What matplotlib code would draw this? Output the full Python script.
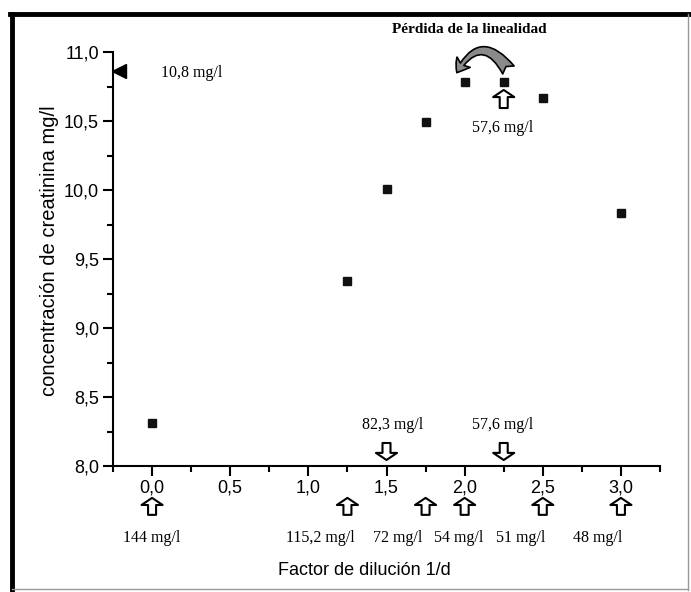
import matplotlib
matplotlib.use('Agg')
import matplotlib.pyplot as plt
from matplotlib.lines import Line2D
from matplotlib.ticker import MultipleLocator, FuncFormatter

# datos
dilucion = [0.0, 1.25, 1.5, 1.75, 2.0, 2.25, 2.5, 3.0]
creatinina = [8.31, 9.34, 10.01, 10.49, 10.78, 10.78, 10.67, 9.83]
ref_x, ref_y = -0.21, 10.86
ref_txt = '10,8 mg/l'

# flechas bajo el eje (posicion de flecha, posicion de texto, texto)
flechas_abajo = [0.0, 1.25, 1.75, 2.0, 2.5, 3.0]
txt_abajo_x = [0.0, 1.08, 1.57, 1.96, 2.36, 2.85]
txt_abajo = ['144 mg/l', '115,2 mg/l', '72 mg/l', '54 mg/l', '51 mg/l', '48 mg/l']
# flechas sobre el eje
flechas_arriba = [1.5, 2.25]
txt_arriba_x = [1.54, 2.24]
txt_arriba = ['82,3 mg/l', '57,6 mg/l']

sans = 'Liberation Sans'
serif = 'Liberation Serif'

fig = plt.figure(figsize=(6.91, 5.92), dpi=100)
ax = fig.add_axes([113/691, 1-466/592, 547/691, 414/592])

ax.plot(dilucion, creatinina, 's', color='#111111', ms=5.5, clip_on=False)
ax.plot([ref_x], [ref_y], '<', color='black', ms=10, clip_on=False)
ax.text(0.06, ref_y - 0.01, ref_txt, family=serif, fontsize=11.5, va='center')

ax.set_xlim(-0.25, 3.25)
ax.set_ylim(8.0, 11.0)
ax.xaxis.set_major_locator(MultipleLocator(0.5))
ax.xaxis.set_minor_locator(MultipleLocator(0.25))
ax.yaxis.set_major_locator(MultipleLocator(0.5))
ax.yaxis.set_minor_locator(MultipleLocator(0.25))
coma = FuncFormatter(lambda v, p: ('%.1f' % v).replace('.', ','))
ax.xaxis.set_major_formatter(coma)
ax.yaxis.set_major_formatter(coma)
ax.tick_params(which='major', direction='out', length=7, width=1.5, labelsize=13, pad=3)
ax.tick_params(which='minor', direction='out', length=4, width=1.5)
for lab in ax.get_xticklabels() + ax.get_yticklabels():
    lab.set_family(sans)
for s in ['top', 'right']:
    ax.spines[s].set_visible(False)
for s in ['left', 'bottom']:
    ax.spines[s].set_linewidth(1.5)

ax.set_ylabel('concentración de creatinina mg/l', family=sans, fontsize=14.5)
ax.yaxis.set_label_coords(-0.098, 0.52)
ax.set_xlabel('Factor de dilución 1/d', family=sans, fontsize=13)
ax.xaxis.set_label_coords(0.46, -0.232)

estilo = 'simple,head_length=0.32,head_width=0.95,tail_width=0.36'
props = dict(arrowstyle=estilo, mutation_scale=16, fc='white', ec='black', lw=1.5,
             shrinkA=0, shrinkB=0)

for xa in flechas_abajo:
    ax.annotate('', xy=(xa, -0.077), xytext=(xa, -0.118),
                xycoords=('data', 'axes fraction'), textcoords=('data', 'axes fraction'),
                arrowprops=props, annotation_clip=False)
for xt, t in zip(txt_abajo_x, txt_abajo):
    ax.text(xt, -0.175, t, family=serif, fontsize=11.5, ha='center', va='center',
            transform=ax.get_xaxis_transform())

for xa in flechas_arriba:
    ax.annotate('', xy=(xa, 0.0145), xytext=(xa, 0.0556),
                xycoords=('data', 'axes fraction'), textcoords=('data', 'axes fraction'),
                arrowprops=props, annotation_clip=False)
for xt, t in zip(txt_arriba_x, txt_arriba):
    ax.text(xt, 0.1, t, family=serif, fontsize=11.5, ha='center', va='center',
            transform=ax.get_xaxis_transform())

# perdida de la linealidad
ax.annotate('', xy=(2.25, 10.725), xytext=(2.25, 10.594), arrowprops=props, annotation_clip=False)
ax.text(2.24, 10.45, '57,6 mg/l', family=serif, fontsize=11.5, ha='center', va='center')
ax.annotate('', xy=(1.95, 10.85), xytext=(2.28, 10.87),
            arrowprops=dict(arrowstyle='fancy,head_length=0.45,head_width=0.6,tail_width=0.5',
                            connectionstyle='arc3,rad=0.8', mutation_scale=20,
                            fc='#8a8a8a', ec='black', lw=1.2, shrinkA=0, shrinkB=0),
            annotation_clip=False)
ax.text(2.03, 11.16, 'Pérdida de la linealidad', family=serif, fontsize=11,
        fontweight='bold', ha='center', va='center')

# marco de la figura
fig.add_artist(Line2D([10/691, 1.0], [1-14/592]*2, color='black', lw=3.5))
fig.add_artist(Line2D([12/691]*2, [1-14/592, 1-590/592], color='black', lw=3.5))
fig.add_artist(Line2D([688/691]*2, [1-14/592, 1-590/592], color='#999999', lw=1))
fig.add_artist(Line2D([12/691, 688/691], [1-589/592]*2, color='#999999', lw=1))

fig.savefig('out.png', dpi=100)
